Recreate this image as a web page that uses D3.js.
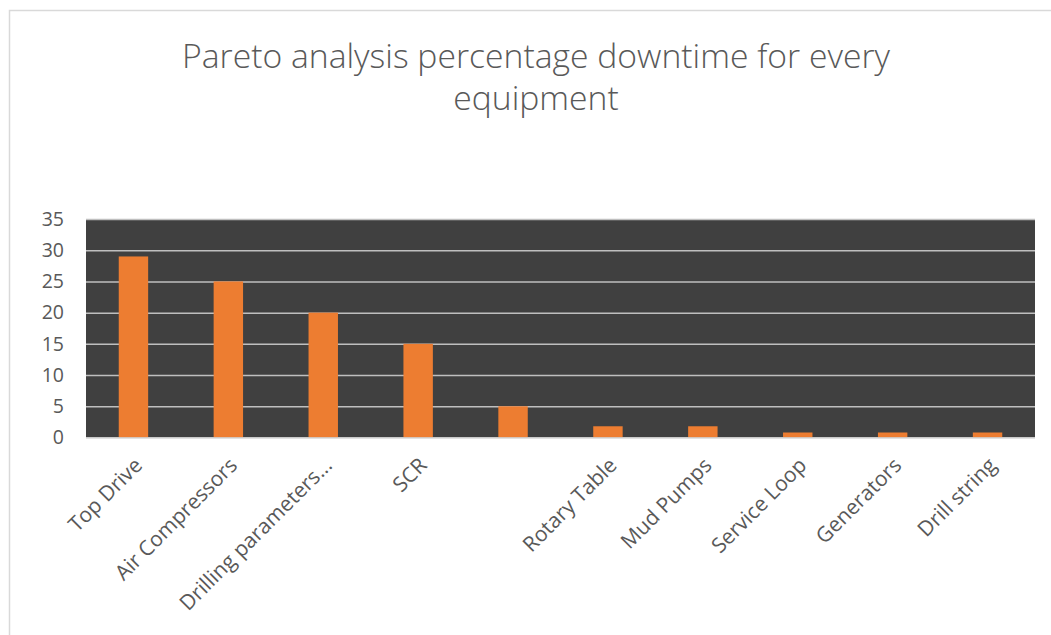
<!DOCTYPE html>
<html>
<head>
<meta charset="utf-8">
<script src="https://cdn.jsdelivr.net/npm/d3@7"></script>
<style>
  html, body { margin: 0; padding: 0; background: #ffffff; }
  svg { display: block; }
  text { font-family: "Open Sans", "Noto Sans", sans-serif; fill: #595959; }
</style>
</head>
<body>
<svg id="chart" width="1051" height="635"></svg>
<script>
// Equipment categories (the fifth one has no label on the source sheet)
const categories = ["Top Drive", "Air Compressors", "Drilling parameters...", "SCR", "",
  "Rotary Table", "Mud Pumps", "Service Loop", "Generators", "Drill string"];
// Percentage of total downtime per equipment
const downtime = [29, 25, 20, 15, 5, 1.8, 1.8, 0.8, 0.8, 0.8];
const yTicks = [0, 5, 10, 15, 20, 25, 30, 35];
const titleLines = ["Pareto analysis percentage downtime for every", "equipment"];

const svg = d3.select("#chart");
const W = 1051, H = 635;
const plot = { left: 86, right: 1035, top: 219, bottom: 437.5 };

// Outer chart frame
svg.append("rect")
  .attr("x", 9.5).attr("y", 10.5)
  .attr("width", W + 20).attr("height", H + 20)
  .attr("fill", "#ffffff").attr("stroke", "#d9d9d9").attr("stroke-width", 1.5);

// Title
svg.append("g").selectAll("text")
  .data(titleLines)
  .join("text")
  .attr("x", 536)
  .attr("y", (d, i) => 68 + i * 42)
  .attr("text-anchor", "middle")
  .attr("font-size", 33.7)
  .attr("font-weight", 300)
  .attr("fill", "#4d4d4d")
  .text(d => d);

const x = d3.scaleBand()
  .domain(d3.range(categories.length))
  .range([plot.left, plot.right])
  .paddingInner(0.69)
  .paddingOuter(0.345);

const y = d3.scaleLinear()
  .domain([0, 35])
  .range([plot.bottom, plot.top]);

// Plot area background
svg.append("rect")
  .attr("x", plot.left).attr("y", plot.top)
  .attr("width", plot.right - plot.left).attr("height", plot.bottom - plot.top)
  .attr("fill", "#404040");

// Horizontal gridlines
svg.append("g")
  .attr("transform", `translate(${plot.left},0)`)
  .call(d3.axisLeft(y).tickValues(yTicks.slice(1)).tickSize(-(plot.right - plot.left)).tickFormat(""))
  .call(g => g.select(".domain").remove())
  .call(g => g.selectAll(".tick line").attr("stroke", "#bfbfbf").attr("stroke-width", 1.5));

// Bars
svg.append("g").selectAll("rect")
  .data(downtime)
  .join("rect")
  .attr("x", (d, i) => x(i))
  .attr("y", d => y(d))
  .attr("width", x.bandwidth())
  .attr("height", d => y(0) - y(d))
  .attr("fill", "#ed7d31");

// Category axis line
svg.append("line")
  .attr("x1", plot.left).attr("x2", plot.right)
  .attr("y1", plot.bottom + 0.5).attr("y2", plot.bottom + 0.5)
  .attr("stroke", "#d9d9d9").attr("stroke-width", 1.5);

// Value axis labels
const yAxis = svg.append("g")
  .attr("transform", `translate(${plot.left},0)`)
  .call(d3.axisLeft(y).tickValues(yTicks).tickSize(0).tickPadding(22));
yAxis.select(".domain").remove();
yAxis.selectAll(".tick text")
  .attr("font-size", 19.5)
  .attr("font-family", "'Open Sans', 'Noto Sans', sans-serif")
  .attr("fill", "#595959");

// Category labels, rotated
const xAxis = svg.append("g")
  .attr("transform", `translate(0,${plot.bottom})`)
  .call(d3.axisBottom(x).tickFormat(i => categories[i]).tickSize(0));
xAxis.select(".domain").remove();
xAxis.selectAll(".tick text")
  .attr("font-size", 21)
  .attr("font-family", "'Open Sans', 'Noto Sans', sans-serif")
  .attr("fill", "#595959")
  .attr("text-anchor", "end")
  .attr("dy", 0)
  .attr("transform", "translate(8,27) rotate(-45)");
</script>
</body>
</html>
